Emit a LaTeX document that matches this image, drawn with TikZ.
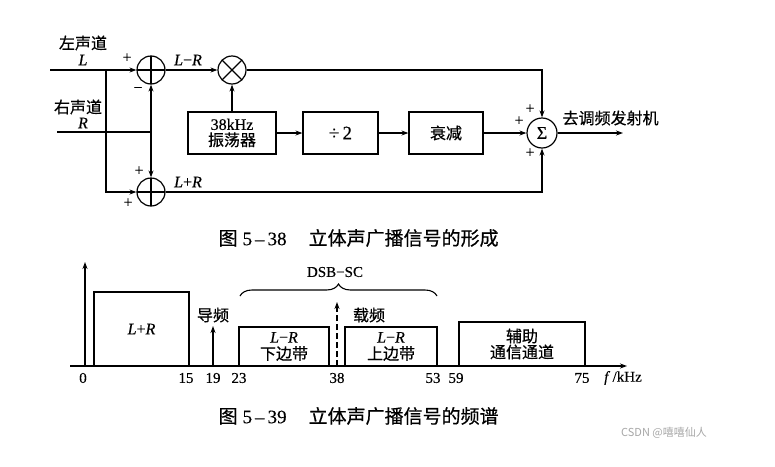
\documentclass[tikz,border=0pt]{standalone}
\usepackage{fontspec}
\setmainfont{Liberation Serif}[FakeBold=0.3]
\newfontfamily\cjk{Noto Sans CJK SC}[FakeBold=0.6]
\newfontfamily\cjkthin{Noto Sans CJK SC}
\usetikzlibrary{arrows.meta,decorations.pathreplacing,calc}
\begin{document}
\begin{tikzpicture}[x=1pt,y=-1pt,line width=1.2pt,
  arr/.style={-{Stealth[length=7pt,width=5pt]}},
  lbl/.style={font=\fontsize{16}{18}\selectfont,inner sep=0pt,align=center},
  pl/.style={font=\fontsize{16}{16}\selectfont,inner sep=0pt},
  ticklbl/.style={font=\fontsize{15}{16}\selectfont,inner sep=0pt},
  sumc/.style={circle,draw,minimum size=28pt,inner sep=0pt,
    path picture={\draw (path picture bounding box.north)--(path picture bounding box.south)
      (path picture bounding box.west)--(path picture bounding box.east);}},
  mulc/.style={circle,draw,minimum size=28pt,inner sep=0pt,
    path picture={\draw (path picture bounding box.north west)--(path picture bounding box.south east)
      (path picture bounding box.south west)--(path picture bounding box.north east);}},
  blk/.style={draw,minimum height=42pt,inner sep=0pt,align=center,font=\fontsize{16}{18}\selectfont},
  bandbox/.style={draw,inner sep=0pt,align=center,font=\fontsize{16}{18}\selectfont},
  figcap/.style={font=\fontsize{19}{21}\selectfont,inner sep=0pt,anchor=west}
]
\useasboundingbox (0,0) rectangle (775,466);
% ---------- block diagram ----------
\node[sumc] (s1) at (151,70) {};
\node[sumc] (s2) at (151,192) {};
\node[mulc] (m) at (232,70) {};
\node[blk,minimum width=88pt] (osc) at (232,133) {38kHz\\[-2pt]{\cjk 振荡器}};
\node[blk,minimum width=75pt,font=\fontsize{19}{20}\selectfont] (div) at (340.5,133) {÷\,2};
\node[blk,minimum width=74pt] (att) at (446,133) {\cjk 衰减};
\node[circle,draw,minimum size=30pt,inner sep=0pt,font=\fontsize{18}{18}\selectfont] (sig) at (542,133) {Σ};

\coordinate (lin) at (50,70);
\coordinate (lj) at (106,70);
\coordinate (rin) at (57,132);
\coordinate (rj) at (151,132);
\coordinate (out) at (623,133);

\node[lbl] (tl) at (83,43) {\cjk 左声道};
\node[lbl] (tL) at (83,60) {\textit{L}};
\node[lbl] (tr) at (78,107) {\cjk 右声道};
\node[lbl] (tR) at (83,123) {\textit{R}};
\node[lbl] (tlmr) at (188,60) {\textit{L}−\textit{R}};
\node[lbl] (tlpr) at (188,182) {\textit{L}+\textit{R}};
\node[lbl,anchor=west] (tout) at (562,118) {\cjk 去调频发射机};

\node[pl] (p1) at (127,58) {+};
\node[pl] (p2) at (138,90) {−};
\node[pl] (p3) at (139,171) {+};
\node[pl] (p4) at (128,203) {+};
\node[pl] (p5) at (530,109) {+};
\node[pl] (p6) at (519,121) {+};
\node[pl] (p7) at (530,153) {+};

\draw[arr] (lin) -- (s1.west);
\draw[arr] (lj) |- (s2.west);
\draw (rin) -- (rj);
\draw[arr] (rj) -- (s1.south);
\draw[arr] (rj) -- (s2.north);
\draw[arr] (s1.east) -- (m.west);
\draw[arr] (osc.north) -- (m.south);
\draw[arr] (m.east) -| (sig.north);
\draw[arr] (osc.east) -- (div.west);
\draw[arr] (div.east) -- (att.west);
\draw[arr] (att.east) -- (sig.west);
\draw[arr] (s2.east) -| (sig.south);
\draw[arr] (sig.east) -- (out);

\node[figcap] (c1) at (218,238) {{\cjk 图}\hspace{5pt}5\hspace{3pt}–\hspace{3pt}38\hspace{22pt}{\cjk 立体声广播信号的形成}};

% ---------- spectrum ----------
\coordinate (o) at (85,366);
\coordinate (ax0) at (70,366);
\coordinate (ax1) at (627,366);
\coordinate (ay1) at (85,262);
\draw[arr] (ax0) -- (ax1);
\draw[arr] (o) -- (ay1);

\node[bandbox,minimum width=95pt,minimum height=74pt] (blr) at (141.5,329) {\textit{L}+\textit{R}};
\node[bandbox,minimum width=90pt,minimum height=39pt] (blsb) at (284,346.5) {\textit{L}−\textit{R}\\[-1pt]{\cjk 下边带}};
\node[bandbox,minimum width=92pt,minimum height=39pt] (busb) at (391,346.5) {\textit{L}−\textit{R}\\[-1pt]{\cjk 上边带}};
\node[bandbox,minimum width=126pt,minimum height=44pt] (baux) at (522,344) {{\cjk 辅助}\\[-2pt]{\cjk 通信通道}};

\coordinate (pb) at (213,366);
\coordinate (pt) at (213,326);
\draw[arr] (pb) -- (pt);
\coordinate (cb) at (337,366);
\coordinate (ct) at (337,302);
\draw[arr,dashed,dash pattern=on 6pt off 3pt] (cb) -- (ct);
\node[lbl] (tpil) at (213,315) {\cjk 导频};
\node[lbl] (tcar) at (369,315) {\cjk 载频};

\coordinate (bra) at (240,296);
\coordinate (brb) at (437,296);
\draw[line width=1.1pt,decorate,decoration={brace,amplitude=12pt}] (bra) -- (brb);
\node[lbl,font=\fontsize{15}{16}\selectfont] (tdsb) at (335,272) {DSB−SC};

\node[ticklbl] (t0) at (83,378) {0};
\node[ticklbl] (t15) at (186,378) {15};
\node[ticklbl] (t19) at (213,378) {19};
\node[ticklbl] (t23) at (239,378) {23};
\node[ticklbl] (t38) at (337,378) {38};
\node[ticklbl] (t53) at (433,378) {53};
\node[ticklbl] (t59) at (456,378) {59};
\node[ticklbl] (t75) at (582,378) {75};
\node[ticklbl] (tf) at (623,378) {\textit{f}\,/kHz};

\node[figcap] (c2) at (218,416) {{\cjk 图}\hspace{5pt}5\hspace{3pt}–\hspace{3pt}39\hspace{22pt}{\cjk 立体声广播信号的频谱}};

\node[font=\fontsize{11}{12}\selectfont\cjkthin,text=black!35,inner sep=0pt] (wm) at (664,433) {CSDN @嘻嘻仙人};
\end{tikzpicture}
\end{document}
